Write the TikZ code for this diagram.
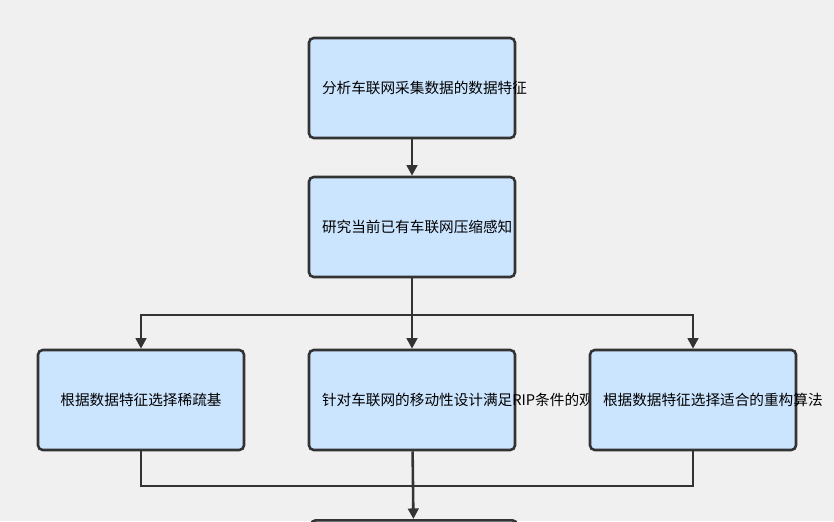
\documentclass[tikz,border=0pt]{standalone}
\usepackage{fontspec}
\newfontfamily\cjk{Noto Sans CJK SC}
\usetikzlibrary{arrows.meta,positioning}
\definecolor{boxfill}{HTML}{CCE5FF}
\definecolor{boxline}{HTML}{333333}
\newlength{\pxunit}\setlength{\pxunit}{0.03cm}
\tikzset{
  stage/.style={draw=boxline,fill=boxfill,line width=2.2pt,rounded corners=4pt,
    minimum width=206\pxunit,minimum height=100\pxunit,text width=180\pxunit,
    align=center,font=\cjk\fontsize{12.5}{17}\selectfont},
  flow/.style={draw=boxline,line width=2.2pt,-{Triangle[length=9pt,width=9pt]}}
}
\begin{document}
\begin{tikzpicture}[x=0.03cm,y=-0.03cm]
\fill[black!6] (0,0) rectangle (834,521);
\clip (0,0) rectangle (834,521);

\node[stage] (feature) at (412,88) {分析车联网采集数据的数据特征};
\node[stage] (survey) at (412,227) {研究当前已有车联网压缩感知};
\node[stage] (basis) at (141,400) {根据数据特征选择稀疏基};
\node[stage] (matrix) at (412,400) {针对车联网的移动性设计满足RIP条件的观测矩阵};
\node[stage] (recon) at (693,400) {根据数据特征选择适合的重构算法};
\node[stage,anchor=north] (next) at (414,519) {};

\coordinate (split) at (412,315);
\coordinate (merge) at (412,486);

\draw[flow] (feature) -- (survey);
\draw[flow] (survey) -- (matrix);
\draw[flow] (split) -| (basis);
\draw[flow] (split) -| (recon);
\draw[draw=boxline,line width=2.2pt] (basis) |- (merge) -| (recon);
\draw[flow] (matrix) -- (next);
\end{tikzpicture}
\end{document}
